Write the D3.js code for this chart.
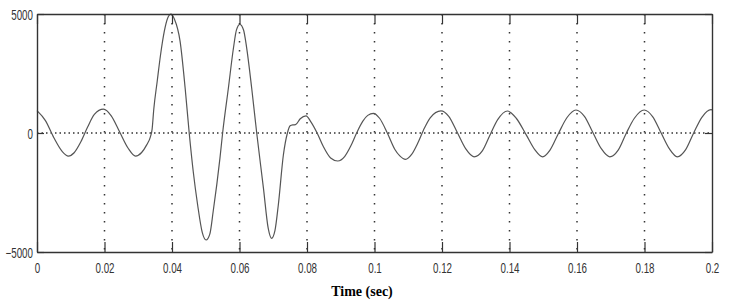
<!DOCTYPE html>
<html>
<head>
<meta charset="utf-8">
<script src="https://cdn.jsdelivr.net/npm/d3@7"></script>
<style>
    body { margin: 0; background: #fff; }
    #chart { width: 732px; height: 303px; }
</style>
</head>
<body>
<div id="chart"></div>
<script>
// Samples (time in s, value)
const times = [
    0.0000, 0.0025, 0.0050, 0.0075, 0.0093, 0.0110, 0.0130, 0.0150, 0.0170, 0.0197,
    0.0220, 0.0245, 0.0270, 0.0292, 0.0310, 0.0325, 0.0336, 0.0341, 0.0346, 0.0356,
    0.0366, 0.0377, 0.0387, 0.0397, 0.0407, 0.0424, 0.0439, 0.0451, 0.0463, 0.0476,
    0.0490, 0.0501, 0.0512, 0.0522, 0.0542, 0.0550, 0.0567, 0.0582, 0.0591, 0.0601,
    0.0612, 0.0621, 0.0636, 0.0651, 0.0671, 0.0685, 0.0695, 0.0705, 0.0715, 0.0730,
    0.0742, 0.0750, 0.0758, 0.0766, 0.0780, 0.0797, 0.0812, 0.0830, 0.0848, 0.0870,
    0.0891, 0.0912, 0.0930, 0.0947, 0.0965, 0.0980, 0.0997, 0.1015, 0.1038, 0.1060,
    0.1075, 0.1092, 0.1110, 0.1128, 0.1145, 0.1165, 0.1197, 0.1220, 0.1245, 0.1270,
    0.1295, 0.1320, 0.1343, 0.1365, 0.1394, 0.1420, 0.1450, 0.1475, 0.1498, 0.1520,
    0.1545, 0.1570, 0.1597, 0.1622, 0.1647, 0.1672, 0.1697, 0.1722, 0.1745, 0.1770,
    0.1799, 0.1824, 0.1849, 0.1874, 0.1897, 0.1922, 0.1945, 0.1970, 0.1997, 0.2000
];
const values = [
    940, 520, -200, -780, -970, -830, -370, 250, 780, 1000,
    720, 40, -640, -970, -820, -500, -160, 150, 1000, 2155,
    3277, 4256, 4820, 5000, 4790, 3850, 1878, 0, -1626, -3025,
    -4200, -4496, -4250, -3300, -1065, 0, 1880, 3560, 4330, 4567,
    4330, 3600, 1900, 0, -2326, -4000, -4425, -4100, -3025, -924,
    0, 300, 340, 350, 600, 720, 460, 0, -560, -1050,
    -1176, -980, -540, 0, 490, 740, 827, 620, 0, -680,
    -960, -1106, -900, -430, 120, 640, 930, 700, 30, -660,
    -1000, -740, -60, 560, 924, 620, -90, -700, -1000, -720,
    -20, 640, 966, 700, 20, -660, -1000, -720, -40, 620,
    966, 690, 10, -670, -1000, -700, -20, 660, 980, 975
];

const xTicks = [0, 0.02, 0.04, 0.06, 0.08, 0.1, 0.12, 0.14, 0.16, 0.18, 0.2];
const yTicks = [-5000, 0, 5000];
const xLabel = "Time (sec)";

class SignalChart {
    constructor(parentElement) {
        this.parentElement = parentElement;
        this.data = times.map((t, i) => ({ t: t, v: values[i] }));
        this.initVis();
    }

    initVis() {
        let vis = this;

        vis.margin = { top: 14, right: 20, bottom: 51, left: 37 };
        vis.width = 732 - vis.margin.left - vis.margin.right;
        vis.height = 303 - vis.margin.top - vis.margin.bottom;

        vis.svg = d3.select("#" + vis.parentElement)
            .append("svg")
            .attr("width", 732)
            .attr("height", 303)
            .append("g")
            .attr("transform", `translate(${vis.margin.left}, ${vis.margin.top})`);

        vis.x = d3.scaleLinear().domain([0, 0.2]).range([0, vis.width]);
        vis.y = d3.scaleLinear().domain([-5000, 5000]).range([vis.height, 0]);

        vis.updateVis();
    }

    updateVis() {
        let vis = this;
        const ink = "#333";

        // Dotted grid
        vis.svg.append("g")
            .selectAll("line")
            .data(xTicks.slice(1, -1))
            .enter()
            .append("line")
            .attr("x1", d => vis.x(d))
            .attr("x2", d => vis.x(d))
            .attr("y1", 0)
            .attr("y2", vis.height)
            .attr("stroke", "#333")
            .attr("stroke-width", 1.5)
            .attr("stroke-dasharray", "1.5,7.5");

        vis.svg.append("g")
            .selectAll("line")
            .data([0])
            .enter()
            .append("line")
            .attr("x1", 0)
            .attr("x2", vis.width)
            .attr("y1", d => vis.y(d))
            .attr("y2", d => vis.y(d))
            .attr("stroke", "#333")
            .attr("stroke-width", 1.5)
            .attr("stroke-dasharray", "1.5,3");

        // Signal trace
        const line = d3.line()
            .x(d => vis.x(d.t))
            .y(d => vis.y(d.v))
            .curve(d3.curveMonotoneX);

        vis.svg.append("path")
            .datum(vis.data)
            .attr("fill", "none")
            .attr("stroke", "#555")
            .attr("stroke-width", 1.2)
            .attr("d", line);

        // Axes on all four sides, ticks pointing inward
        const fmt = d => (d === 0 ? "0" : String(+d.toFixed(2)));

        const xBottom = vis.svg.append("g")
            .attr("transform", `translate(0, ${vis.height})`)
            .call(d3.axisBottom(vis.x).tickValues(xTicks).tickFormat(fmt).tickSizeInner(-10).tickSizeOuter(0).tickPadding(0));
        xBottom.selectAll("text")
            .attr("y", 21)
            .attr("dy", null)
            .attr("transform", "scale(0.7,1)");

        vis.svg.append("g")
            .call(d3.axisTop(vis.x).tickValues(xTicks).tickFormat("").tickSizeInner(-10).tickSizeOuter(0));

        const yLeft = vis.svg.append("g")
            .call(d3.axisLeft(vis.y).tickValues(yTicks).tickFormat(d3.format("d")).tickSizeInner(-7).tickSizeOuter(0));
        yLeft.selectAll("text")
            .attr("x", -4 / 0.7)
            .attr("dy", "0.36em")
            .attr("transform", "scale(0.7,1)");

        vis.svg.append("g")
            .attr("transform", `translate(${vis.width}, 0)`)
            .call(d3.axisRight(vis.y).tickValues(yTicks).tickFormat("").tickSizeInner(-7).tickSizeOuter(0));

        vis.svg.selectAll(".domain")
            .attr("stroke", ink)
            .attr("stroke-width", 1.4);
        vis.svg.selectAll(".tick line")
            .attr("stroke", ink)
            .attr("stroke-width", 1.2);
        vis.svg.selectAll(".tick text")
            .style("font-family", "'Liberation Sans', Arial, sans-serif")
            .style("font-size", "14px")
            .attr("fill", ink);

        // Axis title
        vis.svg.append("text")
            .attr("x", 362 - vis.margin.left)
            .attr("y", 295.5 - vis.margin.top)
            .style("text-anchor", "middle")
            .style("font-family", "'Liberation Serif', 'Times New Roman', serif")
            .style("font-weight", "bold")
            .style("font-size", "14px")
            .attr("fill", "#000")
            .text(xLabel);
    }
}

new SignalChart("chart");
</script>
</body>
</html>
